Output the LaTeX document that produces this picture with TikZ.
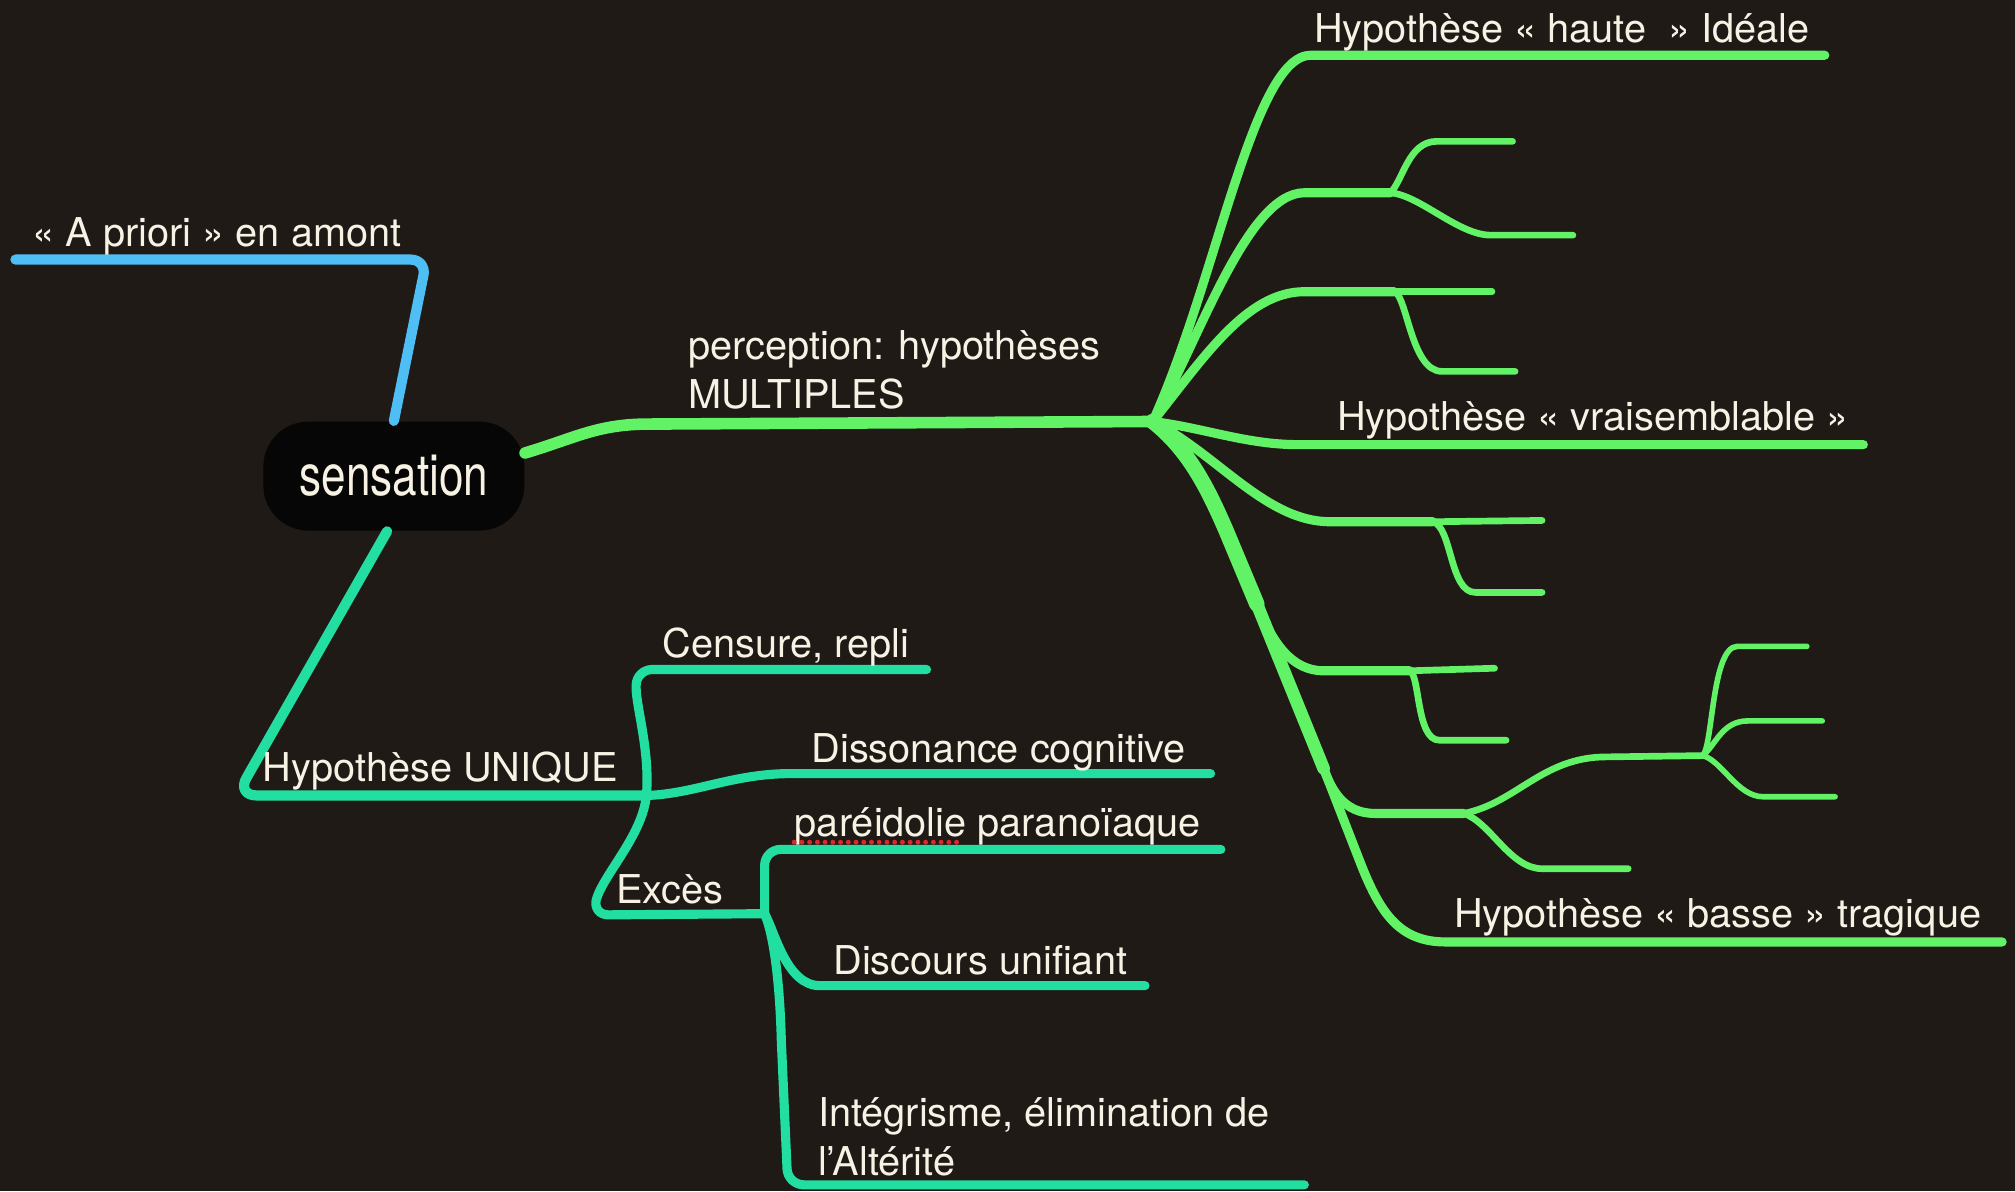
\documentclass[tikz,border=0pt]{standalone}
\usepackage{fontspec}
\setmainfont{TeX Gyre Heros}
\usepackage{graphicx}

\definecolor{bgdark}{RGB}{31,26,22}
\definecolor{leaf}{RGB}{98,242,102}
\definecolor{sky}{RGB}{78,190,245}
\definecolor{mint}{RGB}{34,222,160}
\definecolor{cream}{RGB}{247,242,228}
\definecolor{boxblack}{RGB}{6,6,6}
\definecolor{squiggle}{RGB}{220,40,40}

\tikzset{
  wire/.style={line cap=round, line join=round},
  trunk/.style={wire, line width=3.3pt},
  stalk/.style={wire, line width=2.9pt},
  limb/.style={wire, line width=2.6pt},
  twig/.style={wire, line width=1.9pt},
  sprig/.style={wire, line width=1.6pt},
  lbl/.style={anchor=base west, inner sep=0pt, text=cream, align=left,
    font=\fontsize{11.3}{14}\selectfont},
  sensbox/.style={rectangle, rounded corners=4.5mm, fill=boxblack,
    minimum width=26.1mm, minimum height=10.9mm, inner sep=0pt,
    text=cream, font=\fontsize{16.3}{18}\selectfont},
}

\begin{document}
\begin{tikzpicture}[x=0.12851mm, y=-0.12851mm]
  % Background
  \fill[bgdark] (0,0) rectangle (1568,927);
  \useasboundingbox (0,0) rectangle (1568,927);

  % Central node
  \node[sensbox] (sens) at (306.5,370.5) {\scalebox{0.77}[1]{sensation}};

  % Junctions and branch ends
  \coordinate (prioriEnd) at (12,202);
  \coordinate (hub) at (897,328);
  \coordinate (hauteEnd) at (1420,43);
  \coordinate (bJ) at (1082,150);
  \coordinate (b1End) at (1177,110);
  \coordinate (b2End) at (1224,183);
  \coordinate (cJ) at (1085,227);
  \coordinate (cEnd) at (1161,227);
  \coordinate (c1End) at (1179,289);
  \coordinate (vraiEnd) at (1450,346);
  \coordinate (eJ) at (1115,406);
  \coordinate (eEnd) at (1200,405);
  \coordinate (e1End) at (1200,461);
  \coordinate (stemA) at (955,415);
  \coordinate (stemF) at (978,470);
  \coordinate (stemG) at (1030,598);
  \coordinate (fJ) at (1097,522);
  \coordinate (fEnd) at (1163,520);
  \coordinate (f1End) at (1172,576);
  \coordinate (gJ) at (1139,633);
  \coordinate (gK) at (1325,588);
  \coordinate (g1End) at (1406,503);
  \coordinate (g2End) at (1418,561);
  \coordinate (g3End) at (1428,620);
  \coordinate (g4End) at (1267,676);
  \coordinate (basseEnd) at (1558,733);
  \coordinate (uniJ) at (503,619);
  \coordinate (excJ) at (595,711);
  \coordinate (censEnd) at (721,521);
  \coordinate (dissEnd) at (942,602);
  \coordinate (pareEnd) at (950,661);
  \coordinate (discEnd) at (891,767);
  \coordinate (integEnd) at (1015,922);

  % A priori (blue)
  \draw[sky, stalk, rounded corners=1.6mm] (sens.north) -- (332,202) -- (prioriEnd);

  % Perception (green)
  \draw[leaf, trunk] (sens.10) .. controls +(40,-12) and +(-40,0) .. (505,330) -- (hub);

  % Upper hypotheses
  \draw[leaf, limb] (hub) .. controls +(50,-110) and +(-45,0) .. (1020,43) -- (hauteEnd);
  \draw[leaf, limb] (hub) .. controls +(35,-60) and +(-45,0) .. (1015,150) -- (bJ);
  \draw[leaf, twig] (bJ) .. controls (1092,140) and (1096,110) .. (1118,110) -- (b1End);
  \draw[leaf, twig] (bJ) .. controls (1105,152) and (1135,183) .. (1160,183) -- (b2End);
  \draw[leaf, limb] (hub) .. controls +(40,-50) and +(-45,0) .. (1015,227) -- (cJ);
  \draw[leaf, twig] (cJ) -- (cEnd);
  \draw[leaf, twig] (cJ) .. controls (1095,230) and (1098,289) .. (1122,289) -- (c1End);
  \draw[leaf, limb] (hub) .. controls +(40,5) and +(-40,0) .. (1010,346) -- (vraiEnd);

  % Lower hypotheses
  \draw[leaf, limb] (hub) .. controls +(50,25) and +(-50,0) .. (1035,406) -- (eJ);
  \draw[leaf, twig] (eJ) -- (eEnd);
  \draw[leaf, twig] (eJ) .. controls (1130,410) and (1128,461) .. (1148,461) -- (e1End);
  \draw[leaf, wire, line width=4.4pt] (hub) .. controls (925,350) and (940,380) .. (stemA) -- (stemF);
  \draw[leaf, wire, line width=3.6pt] (stemF) -- (stemG);
  \draw[leaf, limb] (stemG) -- (1060,675) .. controls (1075,712) and (1090,733) .. (1125,733) -- (basseEnd);
  \draw[leaf, limb] (stemF) .. controls (990,500) and (1005,522) .. (1030,522) -- (fJ);
  \draw[leaf, twig] (fJ) -- (fEnd);
  \draw[leaf, twig] (fJ) .. controls (1105,525) and (1102,576) .. (1120,576) -- (f1End);
  \draw[leaf, limb] (stemG) .. controls (1036,614) and (1045,633) .. (1070,633) -- (gJ);
  \draw[leaf, twig] (gJ) .. controls (1180,625) and (1200,589) .. (1250,589) -- (gK);
  \draw[leaf, twig] (gJ) .. controls (1160,640) and (1175,676) .. (1200,676) -- (g4End);
  \draw[leaf, sprig] (gK) .. controls (1333,580) and (1332,503) .. (1352,503) -- (g1End);
  \draw[leaf, sprig] (gK) .. controls (1335,580) and (1340,561) .. (1360,561) -- (g2End);
  \draw[leaf, sprig] (gK) .. controls (1340,592) and (1352,620) .. (1372,620) -- (g3End);

  % Hypothese unique (mint)
  \draw[mint, stalk, rounded corners=2mm] (sens.-97) -- (184,619) -- (uniJ);
  \draw[mint, limb] (uniJ) .. controls (506,585) and (495,550) .. (495,535)
    [rounded corners=1.6mm] -- (495,521) -- (censEnd);
  \draw[mint, limb] (uniJ) .. controls (540,618) and (570,602) .. (615,602) -- (dissEnd);
  \draw[mint, limb] (uniJ) .. controls (500,650) and (470,680) .. (464,700)
    [rounded corners=1.6mm] -- (461,712) -- (excJ);
  \draw[mint, limb, rounded corners=1.6mm] (excJ) -- (595,661) -- (pareEnd);
  \draw[mint, limb] (excJ) .. controls (603,725) and (612,767) .. (638,767) -- (discEnd);
  \draw[mint, limb] (excJ) .. controls (603,730) and (607,770) .. (608,810)
    [rounded corners=1.6mm] -- (613,922) -- (integEnd);

  % Labels
  \node[lbl] (priori) at (25,192) {« A priori » en amont};
  \node[lbl] (percep) at (535,318) {perception: hypothèses\\MULTIPLES};
  \node[lbl] (haute) at (1022,33) {Hypothèse « haute~~» Idéale};
  \node[lbl] (vrai) at (1040,335) {Hypothèse « vraisemblable »};
  \node[lbl] (basse) at (1131,722) {Hypothèse « basse » tragique};
  \node[lbl] (unique) at (204,608) {Hypothèse UNIQUE};
  \node[lbl] (censure) at (515,512) {Censure, repli};
  \node[lbl] (disson) at (631,593) {Dissonance cognitive};
  \node[lbl] (pareid) at (618,651) {paréidolie paranoïaque};
  \node[lbl] (exces) at (479,703) {Excès};
  \node[lbl] (discours) at (648,758) {Discours unifiant};
  \node[lbl] (integ) at (636,915) {Intégrisme, élimination de\\l’Altérité};

  % Spelling mark under paréidolie
  \draw[squiggle, line width=1.4pt, line cap=round, dash pattern=on 0pt off 2.2pt]
    ([yshift=-1.6pt]pareid.base west) -- ++(132,0);
\end{tikzpicture}
\end{document}
